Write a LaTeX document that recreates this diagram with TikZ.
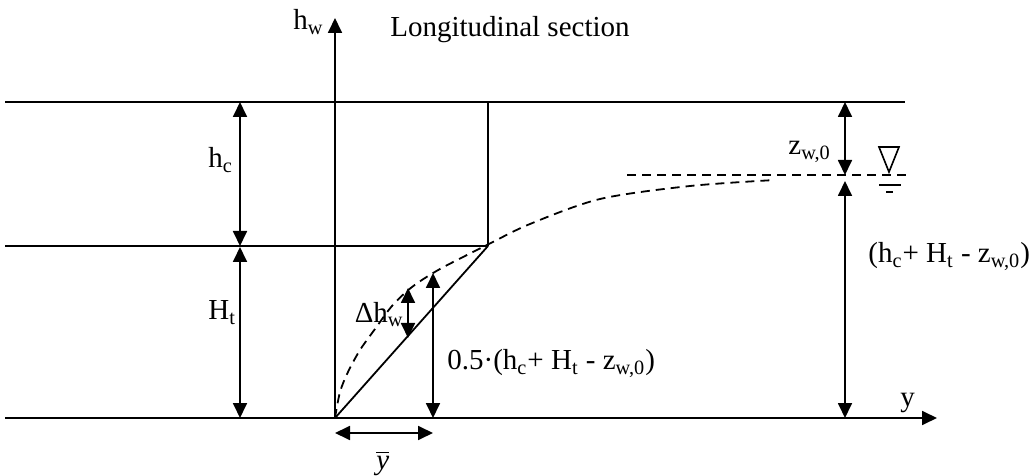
\documentclass[tikz,border=0pt]{standalone}
\usepackage{fontspec}
\setmainfont{Liberation Serif}
\usetikzlibrary{arrows.meta}
\begin{document}
\begin{tikzpicture}[x=0.5pt,y=-0.5pt,
  ln/.style={line width=0.9pt},
  dim/.style={line width=0.9pt,{Triangle[length=7.5pt,width=7pt]}-{Triangle[length=7.5pt,width=7pt]}},
  axisarrow/.style={line width=0.9pt,-{Triangle[length=7.5pt,width=7pt]}},
  dsh/.style={line width=0.9pt,dash pattern=on 4.5pt off 3pt},
  lbl/.style={inner sep=0pt,font=\fontsize{14.5}{17}\selectfont}]
\useasboundingbox (0,0) rectangle (1030,476);
% coordinates
\coordinate (TL) at (5,102);   \coordinate (TR) at (905,102);
\coordinate (ML) at (5,246);   \coordinate (MR) at (488,246);
\coordinate (BL) at (5,418);   \coordinate (BR) at (937,418);
\coordinate (O) at (335,418);  \coordinate (Otop) at (335,18);
\coordinate (BoxT) at (488,102);
\coordinate (hcT) at (240,102); \coordinate (hcB) at (240,246);
\coordinate (HtT) at (240,247); \coordinate (HtB) at (240,418);
\coordinate (zT) at (845,102);  \coordinate (zB) at (845,175);
\coordinate (rT) at (845,181);  \coordinate (rB) at (845,418);
\coordinate (dT) at (408,288);  \coordinate (dB) at (408,338);
\coordinate (hT) at (433,273);  \coordinate (hB) at (433,418);
\coordinate (yL) at (335,433);  \coordinate (yR) at (433,433);
\coordinate (wlL) at (627,175); \coordinate (wlR) at (910,175);
\coordinate (tri1) at (879,147); \coordinate (tri2) at (899,147); \coordinate (tri3) at (889,172);
\coordinate (g1L) at (879,185); \coordinate (g1R) at (901,185);
\coordinate (g2L) at (886,192); \coordinate (g2R) at (893,192);
% lines
\draw[ln] (TL) -- (TR);
\draw[ln] (ML) -- (MR);
\draw[axisarrow] (BL) -- (BR);
\draw[axisarrow] (O) -- (Otop);
\draw[ln] (BoxT) -- (MR);
\draw[ln] (O) -- (MR);
% dimension arrows
\draw[dim] (hcT) -- (hcB);
\draw[dim] (HtT) -- (HtB);
\draw[dim] (zT) -- (zB);
\draw[dim] (rT) -- (rB);
\draw[dim] (dT) -- (dB);
\draw[dim] (hT) -- (hB);
\draw[dim] (yL) -- (yR);
% water level
\draw[dsh] (wlL) -- (wlR);
\draw[dsh] plot[smooth] coordinates {(335,418) (340,392) (348,372) (360,350) (375,329) (392,306) (412,287) (440,269) (487,245) (530,224) (600,199) (690,186) (775,180)};
\draw[line width=0.8pt] (tri1) -- (tri2) -- (tri3) -- cycle;
\draw[line width=0.8pt] (g1L) -- (g1R);
\draw[line width=0.8pt] (g2L) -- (g2R);
% labels
\node[lbl,anchor=base east] (lhw) at (324,30) {h\textsubscript{w}};
\node[lbl,anchor=base west] (ltitle) at (390,37) {Longitudinal section};
\node[lbl,anchor=base west] (lhc) at (208,168) {h\textsubscript{c}};
\node[lbl,anchor=base west] (lHt) at (208,320) {H\textsubscript{t}};
\node[lbl,anchor=base west] (lz) at (788,155) {z\textsubscript{w,0}};
\node[lbl,anchor=base west] (lsum) at (868,263) {(h\textsubscript{c}+ H\textsubscript{t} - z\textsubscript{w,0})};
\node[lbl,anchor=base west] (lhalf) at (447,370) {0.5·(h\textsubscript{c}+ H\textsubscript{t} - z\textsubscript{w,0})};
\node[lbl,anchor=base east] (ldh) at (404,322) {Δh\textsubscript{w}};
\node[lbl,anchor=base west] (lybar) at (376,469) {$\overline{\mbox{\itshape y}}$};
\node[lbl,anchor=base west] (ly) at (900,407) {y};
\end{tikzpicture}
\end{document}
